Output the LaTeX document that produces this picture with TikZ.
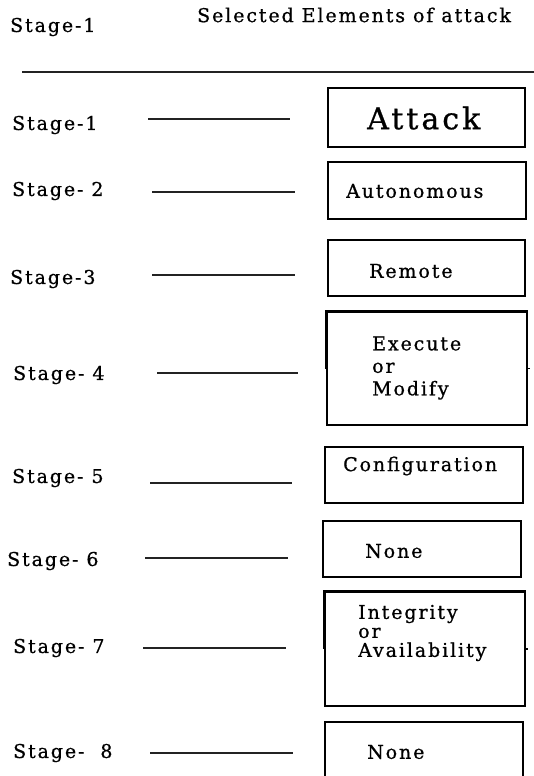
\documentclass[tikz,border=0pt]{standalone}
\usepackage{fontspec}
\setmainfont[LetterSpace=10,FakeBold=0.8]{DejaVu Serif}
\usetikzlibrary{positioning}
\definecolor{ink}{RGB}{35,35,35}
\tikzset{
  tag/.style={font=\fontsize{19}{22}\selectfont,inner sep=0pt,anchor=west,align=left,text=black},
  big tag/.style={tag,font=\fontsize{30}{32}\selectfont},
  box/.style={draw=black,line width=1.4pt,inner sep=0pt},
  rule/.style={draw=ink,line width=1.4pt},
  heavy/.style={draw=black,line width=3pt,line join=miter},
}

\begin{document}
\begin{tikzpicture}[x=1pt,y=-1pt]
    \useasboundingbox (0,0) rectangle (534,776);
    % heading
    \node[tag] (h1) at (10,27) {Stage-1};
    \node[tag] (h2) at (197,15) {Selected Elements of attack};
    \coordinate (ra) at (22,72);
    \coordinate (rb) at (534,72);
    \draw[rule] (ra) -- (rb);
    % stages on the left, with their lines
    \foreach \lbl/\x/\y/\xa/\xb/\yl [count=\i] in {Stage-1/12/125/148/290/119,Stage-~2/12/191/152/295/192,Stage-3/10/279/152/295/275,Stage-~4/13/375/157/298/373,Stage-~5/12/478/150/292/483,Stage-~6/7/561/145/288/558,Stage-~7/13/648/143/286/648,Stage-~~8/13/753/150/293/753}{
      \node[tag] (s\i) at (\x,\y) {\lbl};
      \coordinate (la\i) at (\xa,\yl);
      \coordinate (lb\i) at (\xb,\yl);
      \draw[rule] (la\i) -- (lb\i);
    }
    % boxes on the right
    \foreach \xl/\yt/\xr/\yb [count=\i] in {328/88/525/147,328/162/526/219,328/240/525/296,327/312/527/425,325/447/523/503,323/521/521/577,325/592/525/706,325/722/523/790}{
      \node[box,minimum width={(\xr-\xl)*1pt},minimum height={(\yb-\yt)*1pt}] (b\i) at ({(\xl+\xr)/2},{(\yt+\yb)/2}) {};
    }
    \draw[heavy] (b4.west) -- (b4.north west) -- (b4.north east);
    \draw[heavy] (b7.west) -- (b7.north west) -- (b7.north east);
    \draw[line width=1.2pt] (b4.east) -- ++(2,0);
    \draw[line width=1.2pt] (b7.east) -- ++(2,0);
    % box texts
    \node[big tag] (t1) at (367,118) {Attack};
    \node[tag] (t2) at (346,191) {Autonomous};
    \node[tag] (t3) at (369,271) {Remote};
    \node[tag,font=\fontsize{19}{22.5}\selectfont] (t4) at (372,368) {Execute\\or\\Modify};
    \node[tag] (t5) at (343,466) {Configuration};
    \node[tag] (t6) at (365,551) {None};
    \node[tag,font=\fontsize{19}{19}\selectfont] (t7) at (358,633) {Integrity\\or\\Availability};
    \node[tag] (t8) at (367,752) {None};
\end{tikzpicture}
\end{document}
